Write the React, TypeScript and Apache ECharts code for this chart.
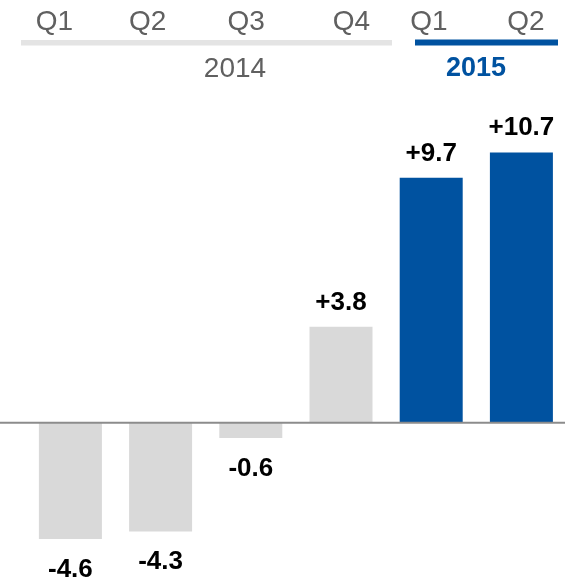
import React, { useEffect, useRef } from "react";
import * as echarts from "echarts";

// ---- data ----
const categories = ["2014 Q1", "2014 Q2", "2014 Q3", "2014 Q4", "2015 Q1", "2015 Q2"];
const quarterLabels = ["Q1", "Q2", "Q3", "Q4", "Q1", "Q2"];
const values = [-4.6, -4.3, -0.6, 3.8, 9.7, 10.7];
const highlighted = [false, false, false, false, true, true];
const yearLabels = ["2014", "2015"];

// ---- layout / style (not data) ----
const quarterLabelOffsets = [-16, -13, -4.6, 10.3, -2.4, 4.6];
const BLUE = "#0052A0";
const GRAY_BAR = "#d9d9d9";
const HEADER_GRAY = "#606060";

export default function App() {
  const ref = useRef<HTMLDivElement>(null);

  useEffect(() => {
    document.body.style.margin = "0";
    const chart = echarts.init(ref.current as HTMLDivElement, null, {
      renderer: "svg",
      width: 570,
      height: 582,
    });
    chart.setOption({
      animation: false,
      grid: { left: 25.3, width: 541.2, top: 119.6, height: 454.8 },
      xAxis: { type: "category", data: categories, show: false },
      yAxis: { type: "value", min: -6, max: 12, show: false },
      series: [
        {
          type: "bar",
          barWidth: 63,
          data: values.map((v, i) => ({
            value: v,
            itemStyle: { color: highlighted[i] ? BLUE : GRAY_BAR },
            label: { position: v < 0 ? "bottom" : "top", distance: v < 0 ? 16 : 13 },
          })),
          label: {
            show: true,
            formatter: (p: any) => (p.value > 0 ? "+" : "") + Number(p.value).toFixed(1),
            fontFamily: "Liberation Sans",
            fontWeight: "bold",
            fontSize: 26,
            color: "#000",
          },
        },
      ],
    });

    const zeroY = chart.convertToPixel({ yAxisIndex: 0 }, 0) as number;
    const xs = categories.map((_, i) => chart.convertToPixel({ xAxisIndex: 0 }, i) as number);

    const headerFont = "Liberation Sans";
    const graphics: any[] = [
      {
        type: "line",
        z: 10,
        shape: { x1: 0, y1: zeroY, x2: 565, y2: zeroY },
        style: { stroke: "#8c8c8c", lineWidth: 2 },
      },
      {
        type: "rect",
        shape: { x: 21, y: 40, width: 371, height: 5.5 },
        style: { fill: "#e4e4e4" },
      },
      {
        type: "rect",
        shape: { x: 415, y: 39.5, width: 143, height: 6 },
        style: { fill: BLUE },
      },
      {
        type: "text",
        x: 235,
        y: 67.3,
        style: {
          text: yearLabels[0],
          fill: HEADER_GRAY,
          font: `normal 28px "${headerFont}"`,
          align: "center",
          verticalAlign: "middle",
        },
      },
      {
        type: "text",
        x: 476,
        y: 67.2,
        style: {
          text: yearLabels[1],
          fill: BLUE,
          font: `bold 27px "${headerFont}"`,
          align: "center",
          verticalAlign: "middle",
        },
      },
      ...quarterLabels.map((q, i) => ({
        type: "text",
        x: xs[i] + quarterLabelOffsets[i],
        y: 20.3,
        style: {
          text: q,
          fill: HEADER_GRAY,
          font: `normal 28px "${headerFont}"`,
          align: "center",
          verticalAlign: "middle",
        },
      })),
    ];
    chart.setOption({ graphic: graphics });

    return () => chart.dispose();
  }, []);

  return (
    <div
      ref={ref}
      style={{ position: "fixed", left: 0, top: 0, width: 570, height: 582 }}
    />
  );
}
